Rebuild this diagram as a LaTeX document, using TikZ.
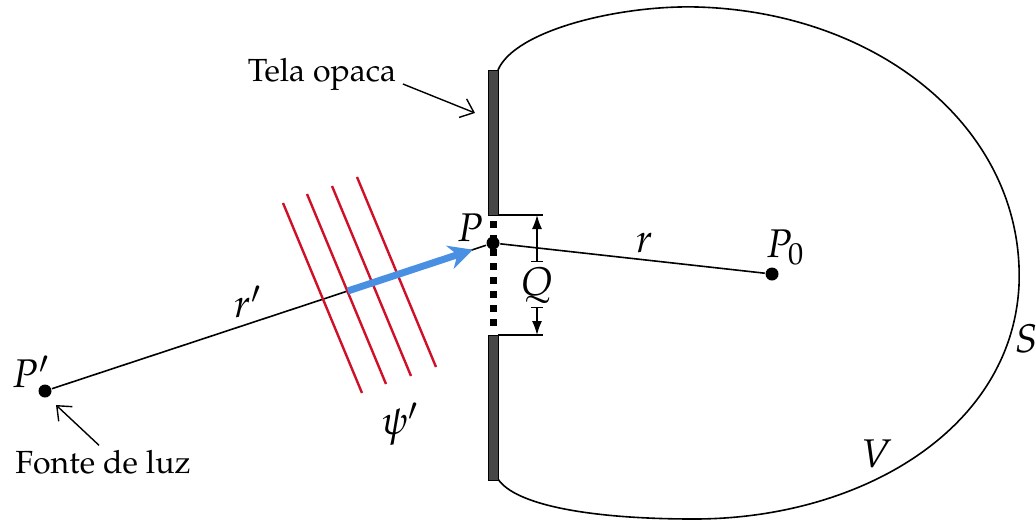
\documentclass[tikz,border=0pt]{standalone}
\usepackage[T1]{fontenc}
\usepackage{mathpazo}
\usetikzlibrary{arrows.meta,calc,positioning}

\definecolor{wavered}{RGB}{208,16,40}
\definecolor{raybl}{RGB}{74,144,226}

\tikzset{
  dot/.style={circle,fill=black,inner sep=0pt,minimum size=6.5pt},
  lbl/.style={font=\fontsize{20}{24}\selectfont,inner sep=0pt},
  txt/.style={font=\fontsize{16}{19}\selectfont,inner sep=1pt},
  screen/.style={draw=black,line width=0.4pt,fill=black!72},
  wave/.style={draw=wavered,line width=1.2pt},
  note/.style={line width=0.7pt,-{Straight Barb[length=6pt,width=10pt]}},
  dim/.style={line width=0.7pt,|-{Latex[length=7pt,width=5pt]}},
}

\begin{document}
\begin{tikzpicture}[x=0.5pt,y=-0.5pt,line width=0.8pt]
\useasboundingbox (0,0) rectangle (1036,520);

% surface S
\draw (498,70) .. controls (515,30) and (620,5) .. (697,7)
  .. controls (880,12) and (1025,130) .. (1019,285)
  .. controls (1012,430) and (860,519) .. (694,519)
  .. controls (590,519) and (515,505) .. (498,479);

% opaque screen with the opening
\draw[screen] (488,70) rectangle (498,215);
\draw[screen] (488,335) rectangle (498,480);
\draw[line width=3.5pt,dash pattern=on 3.5pt off 3.5pt] (493,221) -- (493,332);

\coordinate (gtl) at (498,215);
\coordinate (gtr) at (543,215);
\coordinate (gbl) at (498,335);
\coordinate (gbr) at (543,335);
\draw (gtl) -- (gtr);
\draw (gbl) -- (gbr);

% points
\node[dot] (Pl) at (45,391) {};
\node[dot] (P)  at (493,243) {};
\node[dot] (Pz) at (772,274) {};

% rays
\draw (Pl) -- (P);
\draw (P) -- (Pz);

% wave fronts
\foreach \a/\b in {283/203, 307/194, 332/186, 357/177}
  \draw[wave] (\a,\b) -- ++(79,190);

\draw[raybl,line width=3.5pt,-{Stealth[length=12pt,width=12pt]}]
  ($(Pl)!0.676!(P)$) -- ($(Pl)!0.955!(P)$);

% size of the opening
\node[lbl] (Q) at (537,285) {$Q$};
\coordinate (qa)   at (537,262);
\coordinate (qb)   at (537,307);
\coordinate (qtop) at (537,215);
\coordinate (qbot) at (537,335);
\draw[dim] (qa) -- (qtop);
\draw[dim] (qb) -- (qbot);

% labels
\node[lbl] (lP)  at (470,228) {$P$};
\node[lbl] (lPl) at (31,372)  {$P'$};
\node[lbl] (lPz) at (785,247) {$P_0$};
\node[lbl] (lr)  at (645,243) {$r$};
\node[lbl] (lrl) at (248,302) {$r'$};
\node[lbl] (lpsi) at (400,424) {$\psi'$};
\node[lbl] (lS)  at (1027,339) {$S$};
\node[lbl] (lV)  at (877,454) {$V$};

\node[txt] (tela)  at (322,74)  {Tela opaca};
\node[txt] (fonte) at (103,462) {Fonte de luz};

\coordinate (telatip) at (475,113);
\coordinate (fontetip) at (56,405);
\draw[note] ([shift={(4,10)}]tela.east) -- (telatip);
\draw[note] ([shift={(-4,-2)}]fonte.north) -- (fontetip);

\end{tikzpicture}
\end{document}
